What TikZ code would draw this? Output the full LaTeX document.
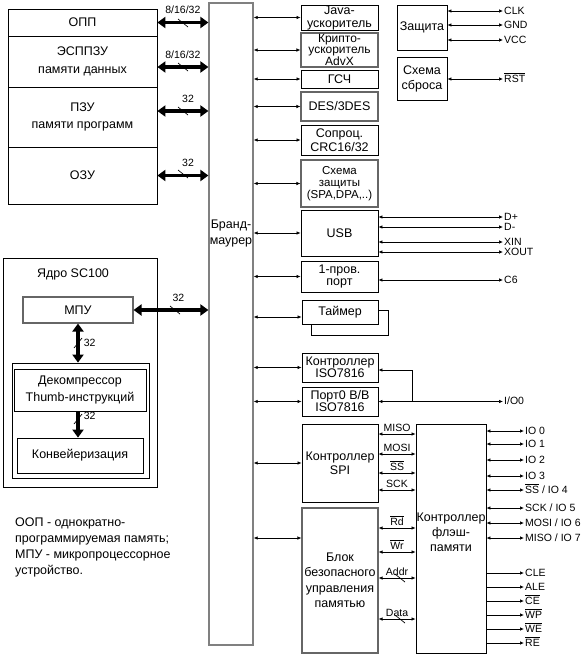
\documentclass[tikz,border=0pt]{standalone}
\usepackage{fontspec}
\setmainfont{Liberation Sans}
\usetikzlibrary{arrows.meta}

\newcommand{\ovl}[1]{$\overline{\mbox{#1}}$}
\newcommand{\busmark}[2]{\draw[line width=0.7pt] (#1,#2) ++(-5,-4) -- ++(10,8);}
\newcommand{\vbusmark}[2]{\draw[line width=0.7pt] (#1,#2) ++(-4,5) -- ++(8,-10);}

\tikzset{
  box/.style={draw, line width=0.8pt, inner sep=0pt, align=center,
    font=\fontsize{12.5}{12}\selectfont},
  sbox/.style={box, draw=black!60, line width=1.1pt},
  pbox/.style={box, minimum width=77pt},
  bus/.style={line width=3.8pt,
    arrows={Triangle[length=8pt,width=11pt]-Triangle[length=8pt,width=11pt]}},
  busend/.style={line width=3.8pt, arrows={-Triangle[length=8pt,width=11pt]}},
  sig/.style={line width=0.7pt,
    arrows={Latex[length=4pt,width=3.5pt]-Latex[length=4pt,width=3.5pt]}},
  sigend/.style={line width=0.7pt, arrows={-Latex[length=4pt,width=3.5pt]}},
  lbl/.style={font=\fontsize{10.5}{10.5}\selectfont, inner sep=1pt,
    text height=8pt, text depth=2pt},
}

\begin{document}
\begin{tikzpicture}[x=1pt,y=-1pt]
\useasboundingbox (0,0) rectangle (585,656);

% memories
\node[box, minimum width=149pt, minimum height=27pt] (opp) at (82.5,22.5) {ОПП};
\node[box, minimum width=149pt, minimum height=51pt, font=\fontsize{12.5}{17.5}\selectfont] (esp) at (82.5,61.5) {ЭСППЗУ\\памяти данных};
\node[box, minimum width=149pt, minimum height=60pt, font=\fontsize{12.5}{17.5}\selectfont] (pzu) at (82.5,117) {ПЗУ\\памяти программ};
\node[box, minimum width=149pt, minimum height=57pt] (ozu) at (82.5,175.5) {ОЗУ};

% firewall
\node[box, draw=gray, line width=1.2pt, minimum width=44pt, minimum height=642pt] (fw) at (231,324) {};
\node[align=center, inner sep=0pt, font=\fontsize{12.5}{16}\selectfont] (fwtxt) at (231,233) {Бранд-\\маурер};

% peripherals
\node[pbox, minimum height=25pt, font=\fontsize{12.5}{13}\selectfont] (java) at (339.5,17.5) {Java-\\ускоритель};
\node[pbox, sbox, minimum height=34pt, font=\fontsize{12}{10.5}\selectfont] (crypto) at (339.5,50) {Крипто-\\ускоритель\\AdvX};
\node[pbox, minimum height=18pt] (gsch) at (339.5,79) {ГСЧ};
\node[pbox, sbox, minimum height=29pt] (des) at (339.5,106.5) {DES/3DES};
\node[pbox, minimum height=30pt, font=\fontsize{12.5}{14}\selectfont] (crc) at (339.5,140) {Сопроц.\\CRC16/32};
\node[pbox, sbox, minimum height=47pt, font=\fontsize{11.5}{12}\selectfont] (spa) at (339.5,183.5) {Схема\\защиты\\(SPA,DPA,..)};
\node[pbox, minimum height=46pt] (usb) at (339.5,233) {USB};
\node[pbox, minimum height=31pt] (ow) at (339.5,276.5) {1-пров.\\порт};
\node[box, minimum width=77pt, minimum height=25pt] (tmrb) at (349.5,322.5) {};
\node[box, fill=white, minimum width=76pt, minimum height=24pt] (tmr) at (340,312) {Таймер};
\node[box, minimum width=76pt, minimum height=29pt] (iso) at (340,367.5) {Контроллер\\ISO7816};
\node[box, minimum width=76pt, minimum height=29pt] (port) at (340,401.5) {Порт0 В/В\\ISO7816};
\node[box, minimum width=76pt, minimum height=78pt, font=\fontsize{12.5}{14}\selectfont] (spi) at (340,463) {Контроллер\\SPI};
\node[box, sbox, minimum width=76pt, minimum height=145pt, font=\fontsize{12.5}{15.5}\selectfont] (smm) at (340,580.5) {Блок\\безопасного\\управления\\памятью};

% protection and reset
\node[box, minimum width=50pt, minimum height=45pt] (zas) at (422,27.5) {Защита};
\node[box, minimum width=50pt, minimum height=43pt, font=\fontsize{12.5}{15}\selectfont] (rst) at (422,78.5) {Схема\\сброса};

% flash controller
\node[box, minimum width=70pt, minimum height=229pt] (fl) at (451,538.5) {};
\node[align=center, inner sep=0pt, font=\fontsize{12.5}{15}\selectfont] (fltxt) at (451,532) {Контроллер\\флэш-\\памяти};

% core SC100
\node[box, minimum width=154pt, minimum height=229pt] (core) at (80,372.5) {};
\node[font=\fontsize{12.5}{12}\selectfont] (coretxt) at (73,274) {Ядро SC100};
\node[box, sbox, minimum width=110pt, minimum height=26pt] (mpu) at (78,310) {МПУ};
\node[box, minimum width=137pt, minimum height=115pt] (pipe) at (80.5,420.5) {};
\node[box, minimum width=132pt, minimum height=42pt, font=\fontsize{12.5}{17}\selectfont] (dec) at (80,390) {Декомпрессор\\Thumb-инструкций};
\node[box, minimum width=126pt, minimum height=35pt] (conv) at (80,455.5) {Конвейеризация};

% note
\node[anchor=north west, align=left, inner sep=0pt, font=\fontsize{12.5}{16}\selectfont] (note) at (15,518) {ООП - однократно-\\программируемая память;\\МПУ - микропроцессорное\\устройство.};

% buses to the firewall
\coordinate (espb) at ([yshift=-5.5pt]esp.east);
\coordinate (pzub) at ([yshift=6pt]pzu.east);
\draw[bus] (opp.east) -- (opp.east -| fw.west) node[lbl, midway, above=4pt] {8/16/32};
\draw[bus] (espb) -- (espb -| fw.west) node[lbl, midway, above=4pt] {8/16/32};
\draw[bus] (pzub) -- (pzub -| fw.west) node[lbl, pos=0.6, above=4pt] {32};
\draw[bus] (ozu.east) -- (ozu.east -| fw.west) node[lbl, pos=0.6, above=4pt] {32};
\draw[bus] (mpu.east) -- (mpu.east -| fw.west) node[lbl, pos=0.6, above=4pt] {32};
\busmark{183}{23}
\busmark{183}{67}
\busmark{183}{111}
\busmark{183}{174}
\busmark{175}{310}

% core buses
\draw[bus] (mpu.south) -- (mpu.south |- pipe.north) node[lbl, midway, right=3pt] {32};
\draw[busend] (mpu.south |- dec.south) -- (mpu.south |- conv.north) node[lbl, pos=0.2, right=3pt] {32};
\vbusmark{78}{343}
\vbusmark{78}{419}

% firewall to peripherals
\foreach \b in {java,crypto,gsch,des,crc,spa,usb,ow,iso,port,spi}
  \draw[sig] (fw.east |- \b.west) -- (\b.west);
\coordinate (tmrin) at ([yshift=-5pt]tmr.west);
\coordinate (smmin) at ([yshift=42.5pt]smm.west);
\draw[sig] (fw.east |- tmrin) -- (tmrin);
\draw[sig] (fw.east |- smmin) -- (smmin);

% outside pins
\node[lbl, anchor=west] (clk) at (503,11) {CLK};
\node[lbl, anchor=west] (gnd) at (503,25) {GND};
\node[lbl, anchor=west] (vcc) at (503,40) {VCC};
\node[lbl, anchor=west] (rstl) at (503,79) {\ovl{RST}};
\foreach \s in {clk,gnd,vcc}
  \draw[sig] (zas.east |- \s.west) -- (\s.west);
\draw[sig] (rst.east |- rstl.west) -- (rstl.west);

\node[lbl, anchor=west] (dp) at (503,217) {D+};
\node[lbl, anchor=west] (dm) at (503,227) {D-};
\node[lbl, anchor=west] (xin) at (503,242) {XIN};
\node[lbl, anchor=west] (xout) at (503,252) {XOUT};
\node[lbl, anchor=west] (c6) at (503,280) {C6};
\node[lbl, anchor=west] (io0) at (503,401.5) {I/O0};
\foreach \s in {dp,dm,xin,xout}
  \draw[sig] (usb.east |- \s.west) -- (\s.west);
\draw[sig] (ow.east |- c6.west) -- (c6.west);

% ISO7816 line
\coordinate (isoj) at (412,370);
\draw[sigend] (isoj) -- (iso.east |- isoj);
\draw[line width=0.7pt] (isoj) -- (isoj |- io0);
\draw[sig] (port.east) -- (io0.west);

% SPI and memory unit to flash controller
\draw[sig] (spi.east |- 0,434) -- (fl.west |- 0,434) node[lbl, midway, above, inner sep=0.5pt] {MISO};
\draw[sig] (spi.east |- 0,454) -- (fl.west |- 0,454) node[lbl, midway, above, inner sep=0.5pt] {MOSI};
\draw[sig] (spi.east |- 0,473) -- (fl.west |- 0,473) node[lbl, midway, above, inner sep=0.5pt] {\ovl{SS}};
\draw[sig] (spi.east |- 0,490) -- (fl.west |- 0,490) node[lbl, midway, above, inner sep=0.5pt] {SCK};
\draw[sig] (smm.east |- 0,528) -- (fl.west |- 0,528) node[lbl, midway, above, inner sep=0.5pt] {\ovl{Rd}};
\draw[sig] (smm.east |- 0,552) -- (fl.west |- 0,552) node[lbl, midway, above, inner sep=0.5pt] {\ovl{Wr}};
\draw[sig] (smm.east |- 0,578) -- (fl.west |- 0,578) node[lbl, midway, above, inner sep=0.5pt] {Addr};
\draw[sig] (smm.east |- 0,619) -- (fl.west |- 0,619) node[lbl, midway, above, inner sep=0.5pt] {Data};
\busmark{400}{578}
\busmark{400}{619}

% flash pins
\node[lbl, anchor=west] (f0) at (524,431) {IO 0};
\node[lbl, anchor=west] (f1) at (524,444) {IO 1};
\node[lbl, anchor=west] (f2) at (524,460) {IO 2};
\node[lbl, anchor=west] (f3) at (524,476) {IO 3};
\node[lbl, anchor=west] (f4) at (524,490) {\ovl{SS} / IO 4};
\node[lbl, anchor=west] (f5) at (524,508) {SCK / IO 5};
\node[lbl, anchor=west] (f6) at (524,523) {MOSI / IO 6};
\node[lbl, anchor=west] (f7) at (524,538) {MISO / IO 7};
\node[lbl, anchor=west] (cle) at (524,573) {CLE};
\node[lbl, anchor=west] (ale) at (524,587) {ALE};
\node[lbl, anchor=west] (ce) at (524,601) {\ovl{CE}};
\node[lbl, anchor=west] (wp) at (524,615) {\ovl{WP}};
\node[lbl, anchor=west] (we) at (524,629) {\ovl{WE}};
\node[lbl, anchor=west] (re) at (524,643) {\ovl{RE}};
\foreach \s in {f0,f1,f2,f3,f4,f5,f6,f7}
  \draw[sig] (fl.east |- \s.west) -- (\s.west);
\foreach \s in {cle,ale,ce,wp,we,re}
  \draw[sigend] (fl.east |- \s.west) -- (\s.west);

\end{tikzpicture}
\end{document}
